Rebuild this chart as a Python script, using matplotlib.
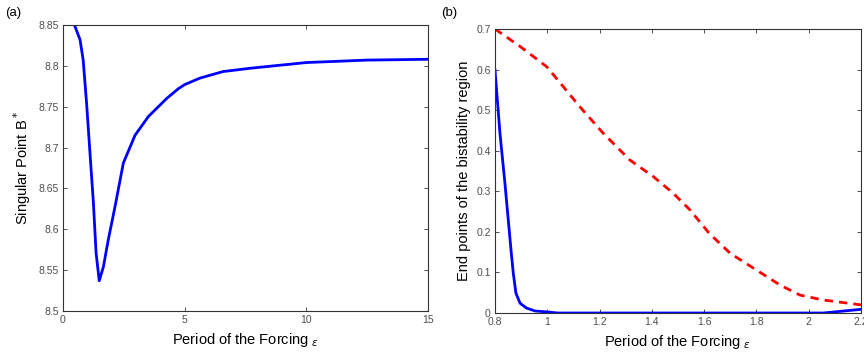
import numpy as np
import matplotlib
matplotlib.use('Agg')
import matplotlib.pyplot as plt

plt.rcParams['font.family'] = ['Liberation Sans', 'DejaVu Sans']
plt.rcParams['mathtext.fontset'] = 'dejavusans'

# panel (a): singular point B* against forcing period
period_a = [0.47, 0.70, 0.83, 0.97, 1.11, 1.25, 1.36, 1.49, 1.66, 1.86, 2.14, 2.48,
            2.96, 3.51, 4.26, 4.74, 5.0, 5.63, 6.58, 7.69, 10.0, 12.5, 15.0]
b_star = [8.850, 8.832, 8.807, 8.754, 8.693, 8.632, 8.571, 8.537, 8.554, 8.587,
          8.628, 8.681, 8.715, 8.738, 8.760, 8.772, 8.777, 8.785, 8.793, 8.797,
          8.804, 8.807, 8.808]

# panel (b): end points of the bistability region
period_upper = [0.80, 0.896, 0.998, 1.061, 1.125, 1.214, 1.316, 1.406, 1.482, 1.546,
                1.62, 1.70, 1.80, 1.89, 1.967, 2.056, 2.20]
upper_end = [0.700, 0.657, 0.607, 0.558, 0.508, 0.443, 0.377, 0.336, 0.295, 0.254,
             0.196, 0.147, 0.106, 0.069, 0.044, 0.032, 0.020]
period_lower = [0.80, 0.819, 0.838, 0.855, 0.862, 0.870, 0.880, 0.896, 0.921, 0.953,
                1.01, 1.04, 1.5, 2.056, 2.20]
lower_end = [0.599, 0.443, 0.320, 0.200, 0.150, 0.098, 0.049, 0.024, 0.012, 0.005,
             0.002, 0.0, 0.0, 0.0, 0.009]

xticks_a = [0, 5, 10, 15]
yticks_a = [8.5, 8.55, 8.6, 8.65, 8.7, 8.75, 8.8, 8.85]
xticks_b = [0.8, 1, 1.2, 1.4, 1.6, 1.8, 2, 2.2]
yticks_b = [0, 0.1, 0.2, 0.3, 0.4, 0.5, 0.6, 0.7]


def style_axes(ax):
    for s in ax.spines.values():
        s.set_color('#333333')
        s.set_linewidth(0.8)
    ax.tick_params(direction='in', top=True, right=True, length=3, width=0.6,
                   color='#333333', labelsize=7.5, labelcolor='#4d4d4d', pad=3)


def tick_fmt(v):
    return ('%g' % v)


xlabel = r'Period of the Forcing $_{\varepsilon}$'

fig = plt.figure(figsize=(8.64, 3.58), dpi=100)

ax1 = fig.add_axes([0.0729, 0.1313, 0.4225, 0.799])
ax1.plot(period_a, b_star, color='#0000ff', lw=2.0, solid_joinstyle='round')
ax1.set_xlim(0, 15)
ax1.set_ylim(8.5, 8.85)
ax1.set_xticks(xticks_a)
ax1.set_xticklabels([tick_fmt(v) for v in xticks_a])
ax1.set_yticks(yticks_a)
ax1.set_yticklabels([tick_fmt(v) for v in yticks_a])
style_axes(ax1)
ax1.set_xlabel(xlabel, fontsize=10.5, labelpad=4)
ax1.set_ylabel(r'Singular Point B$^*$', fontsize=10.5, labelpad=4)

ax2 = fig.add_axes([0.5729, 0.1257, 0.4236, 0.7933])
ax2.plot(period_upper, upper_end, color='#ff0000', lw=2.0, ls=(0, (3, 2.2)))
ax2.plot(period_lower, lower_end, color='#0000ff', lw=2.0, solid_joinstyle='round')
ax2.set_xlim(0.8, 2.2)
ax2.set_ylim(0, 0.7)
ax2.set_xticks(xticks_b)
ax2.set_xticklabels([tick_fmt(v) for v in xticks_b])
ax2.set_yticks(yticks_b)
ax2.set_yticklabels([tick_fmt(v) for v in yticks_b])
style_axes(ax2)
ax2.set_xlabel(xlabel, fontsize=10.5, labelpad=4)
ax2.set_ylabel('End points of the bistability region', fontsize=10.5, labelpad=4)

fig.text(0.006, 0.965, '(a)', fontsize=9.5, va='center', ha='left')
fig.text(0.510, 0.965, '(b)', fontsize=9.5, va='center', ha='left')

fig.savefig('out.png', dpi=100)
